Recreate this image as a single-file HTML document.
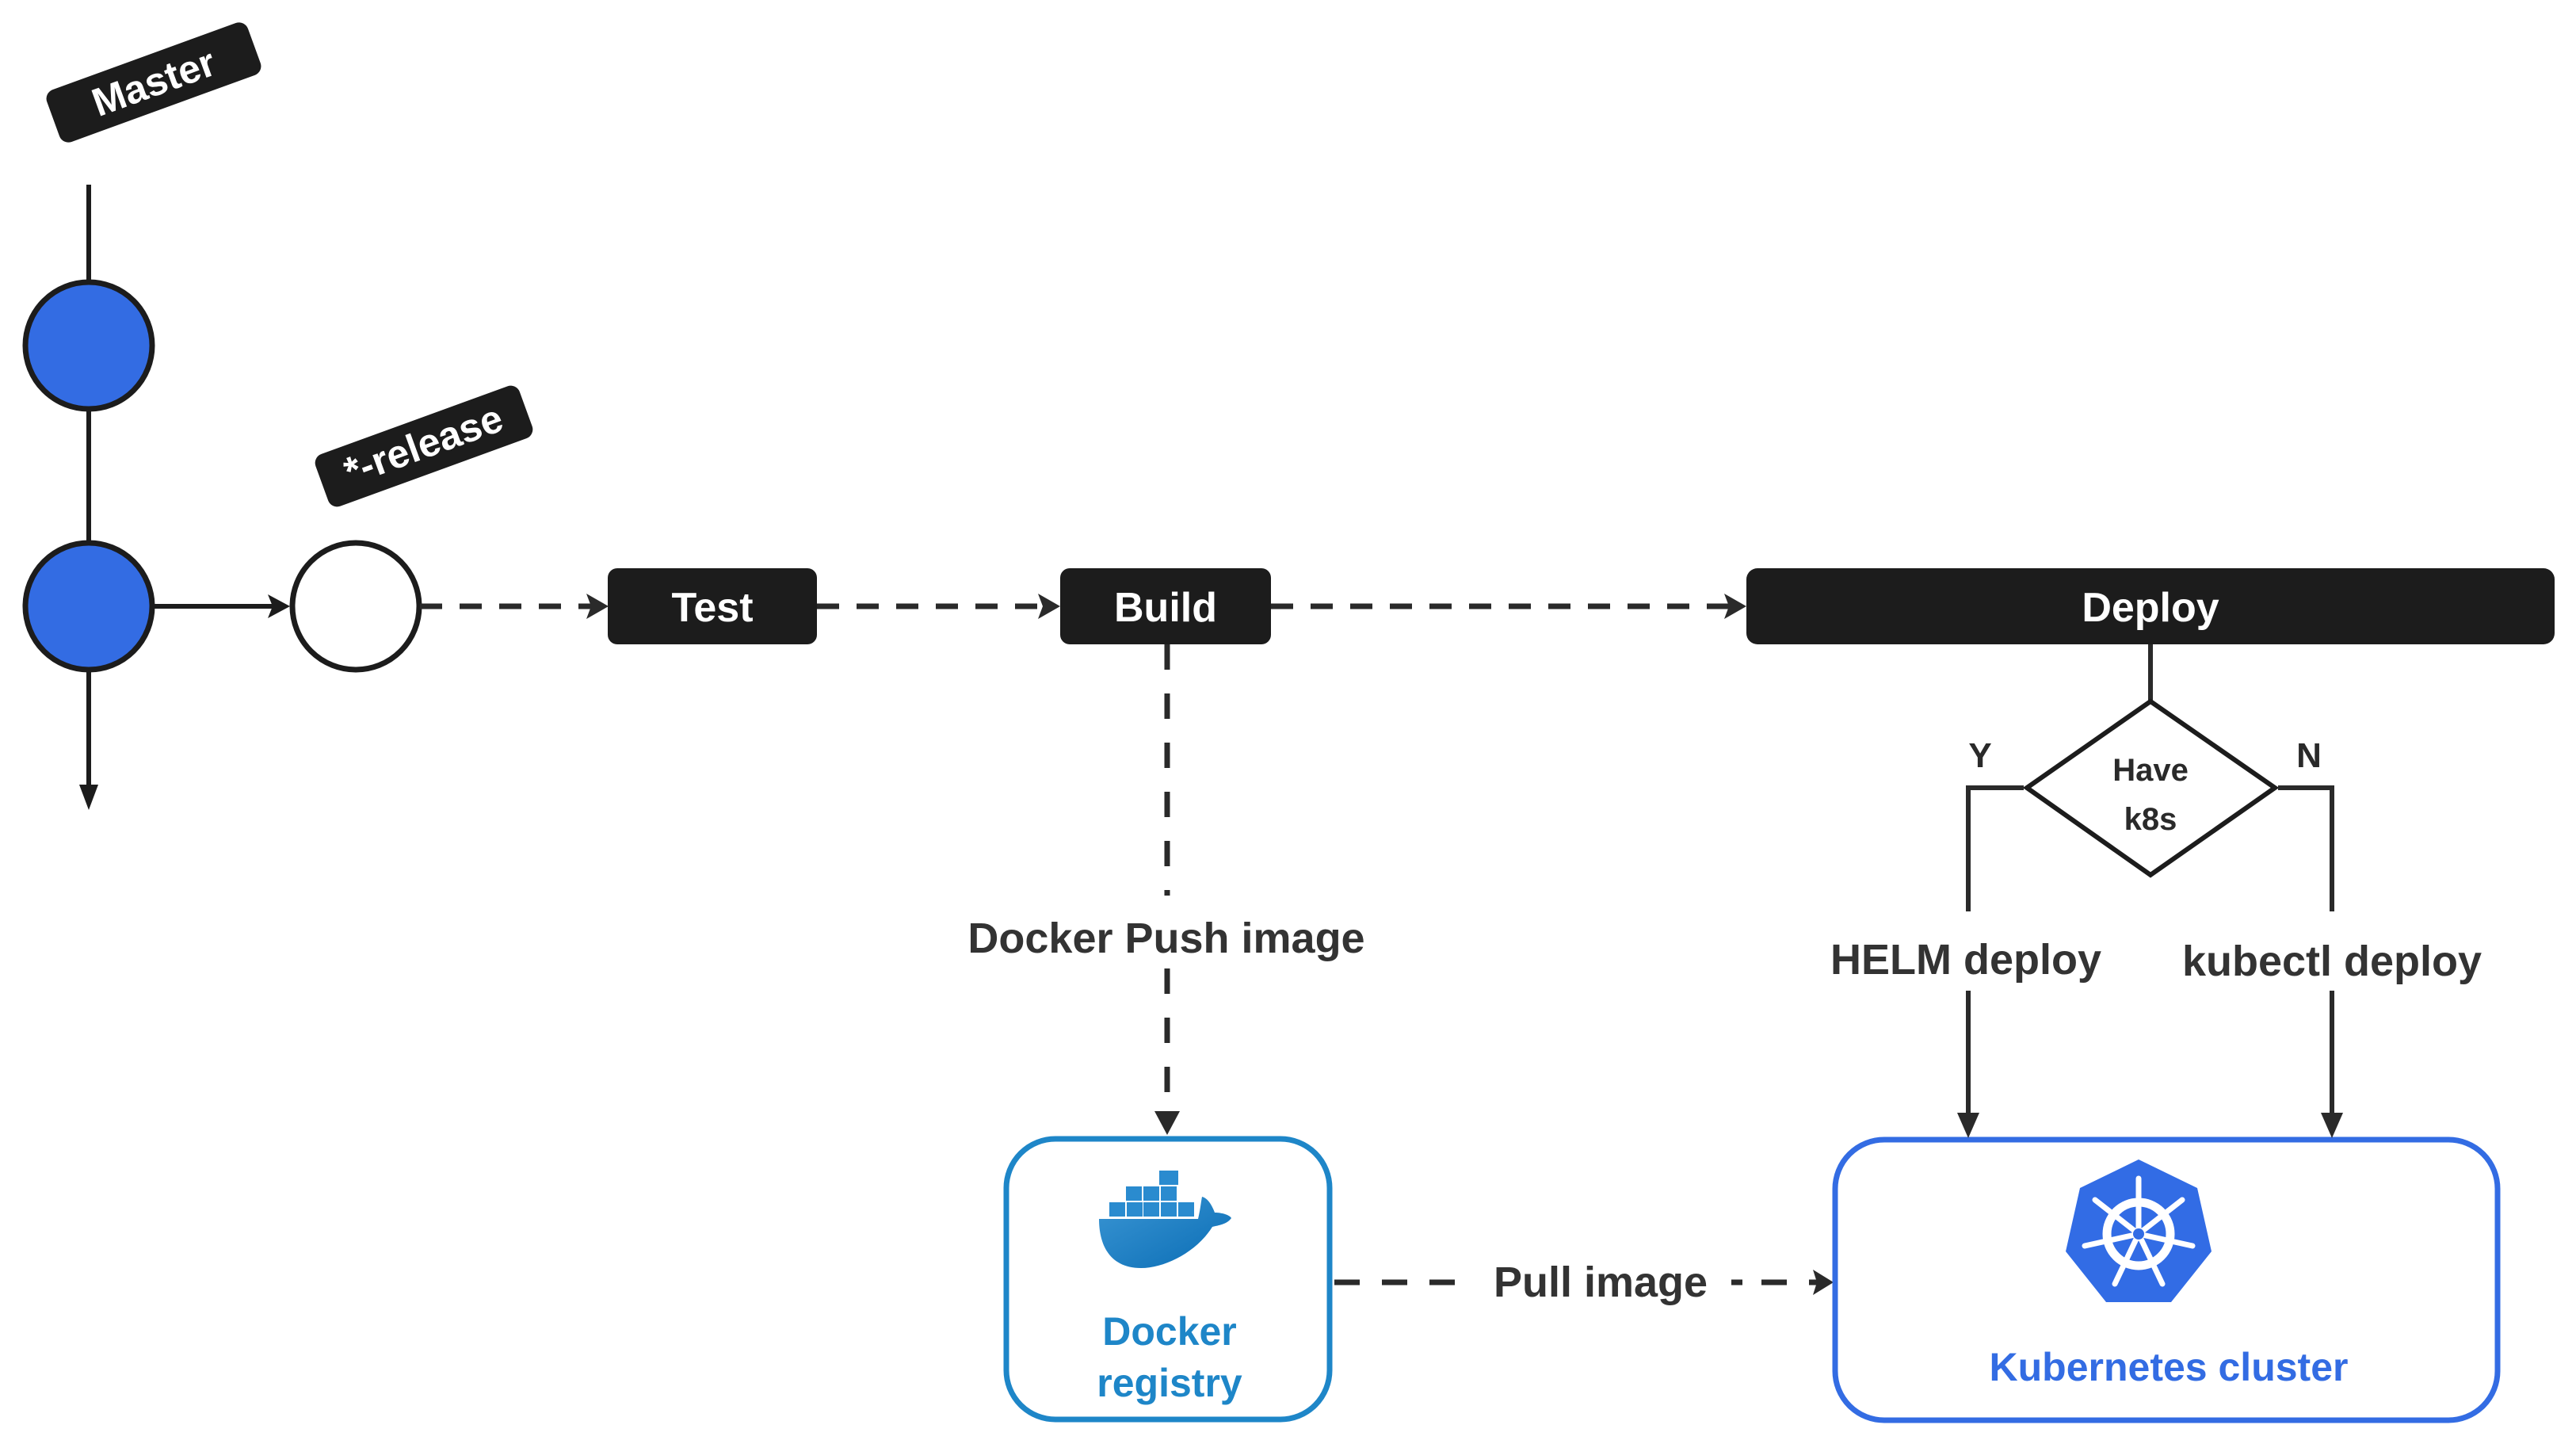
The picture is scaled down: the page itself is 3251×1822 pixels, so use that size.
<!DOCTYPE html>
<html><head><meta charset="utf-8"><style>
html,body{margin:0;padding:0;background:#fff}
svg{display:block}
text{font-family:"Liberation Sans",sans-serif;font-weight:bold}
</style></head><body>
<svg width="3251" height="1822" viewBox="0 0 3251 1822" xmlns="http://www.w3.org/2000/svg">
<defs>
<linearGradient id="dg" x1="0" y1="0" x2="1" y2="1"><stop offset="0" stop-color="#3a95d3"/><stop offset="1" stop-color="#0a6db5"/></linearGradient>
</defs>
<rect width="3251" height="1822" fill="#fff"/>

<!-- Master label -->
<g transform="translate(194,104) rotate(-20)">
<rect x="-135" y="-35" width="270" height="70" rx="12" fill="#1c1c1c"/>
<text x="0" y="17" font-size="50" fill="#fff" text-anchor="middle">Master</text>
</g>
<!-- release label -->
<g transform="translate(535,563) rotate(-20)">
<rect x="-137" y="-35" width="274" height="70" rx="12" fill="#1c1c1c"/>
<text x="0" y="15" font-size="50" fill="#fff" text-anchor="middle">*-release</text>
</g>

<!-- master line -->
<line x1="112" y1="233" x2="112" y2="1000" stroke="#1c1c1c" stroke-width="6"/>
<polygon points="100,990 124,990 112,1022" fill="#1c1c1c"/>
<circle cx="112" cy="436" r="80" fill="#336ce3" stroke="#1c1c1c" stroke-width="7"/>
<circle cx="112" cy="765" r="80" fill="#336ce3" stroke="#1c1c1c" stroke-width="7"/>
<line x1="195" y1="765" x2="350" y2="765" stroke="#1c1c1c" stroke-width="6"/>
<polygon points="338,750 366,765 338,780 344,765" fill="#1c1c1c"/>
<circle cx="449" cy="765" r="80" fill="#fff" stroke="#1c1c1c" stroke-width="7"/>

<line x1="530" y1="765" x2="752" y2="765" stroke="#2a2a2a" stroke-width="7" stroke-dasharray="28,22"/>
<polygon points="740,749 768,765 740,781 746,765" fill="#2a2a2a"/>
<rect x="767" y="717" width="264" height="96" rx="12" fill="#1c1c1c"/>
<text x="899" y="784" font-size="52" fill="#fff" text-anchor="middle">Test</text>

<line x1="1031" y1="765" x2="1322" y2="765" stroke="#2a2a2a" stroke-width="7" stroke-dasharray="28,22"/>
<polygon points="1310,749 1338,765 1310,781 1316,765" fill="#2a2a2a"/>
<rect x="1338" y="717" width="266" height="96" rx="12" fill="#1c1c1c"/>
<text x="1471" y="784" font-size="52" fill="#fff" text-anchor="middle">Build</text>

<line x1="1604" y1="765" x2="2188" y2="765" stroke="#2a2a2a" stroke-width="7" stroke-dasharray="28,22"/>
<polygon points="2176,749 2204,765 2176,781 2182,765" fill="#2a2a2a"/>

<!-- Docker push -->
<line x1="1473" y1="813" x2="1473" y2="1130" stroke="#2a2a2a" stroke-width="7" stroke-dasharray="32,30"/>
<text x="1472" y="1202" font-size="54" fill="#333" text-anchor="middle">Docker Push image</text>
<line x1="1473" y1="1222" x2="1473" y2="1405" stroke="#2a2a2a" stroke-width="7" stroke-dasharray="32,30"/>
<polygon points="1457,1402 1489,1402 1473,1432" fill="#2a2a2a"/>

<rect x="1270" y="1437" width="408" height="354" rx="62" fill="#fff" stroke="#1e86c8" stroke-width="7"/>
<g fill="#2a8bcf">
<rect x="1463" y="1477" width="24" height="18"/>
<rect x="1421" y="1497" width="20" height="18"/><rect x="1443" y="1497" width="20" height="18"/><rect x="1465" y="1497" width="20" height="18"/>
<rect x="1400" y="1517" width="20" height="18"/><rect x="1422" y="1517" width="20" height="18"/><rect x="1443" y="1517" width="20" height="18"/><rect x="1465" y="1517" width="20" height="18"/><rect x="1487" y="1517" width="20" height="18"/>
</g>
<path d="M1387,1538 L1512,1538 C1515,1525 1516,1515 1517,1510 C1525,1512 1530,1522 1533,1530 C1542,1530 1552,1533 1554,1537 C1548,1545 1538,1546 1530,1548 C1510,1580 1470,1600 1440,1600 C1400,1600 1387,1570 1387,1538 Z" fill="url(#dg)"/>
<text x="1476" y="1697" font-size="50" fill="#1e86c8" text-anchor="middle">Docker</text>
<text x="1476" y="1762" font-size="50" fill="#1e86c8" text-anchor="middle">registry</text>

<!-- Pull image -->
<line x1="1684" y1="1618" x2="1860" y2="1618" stroke="#2a2a2a" stroke-width="7" stroke-dasharray="32,28"/>
<text x="2020" y="1636" font-size="54" fill="#333" text-anchor="middle">Pull image</text>
<line x1="2185" y1="1618" x2="2295" y2="1618" stroke="#2a2a2a" stroke-width="7" stroke-dasharray="14,24,32,28"/>
<polygon points="2288,1602 2314,1618 2288,1634 2293,1618" fill="#2a2a2a"/>

<g transform="translate(-7,0)">
<rect x="2211" y="717" width="1020" height="96" rx="14" fill="#1c1c1c"/>
<text x="2721" y="784" font-size="52" fill="#fff" text-anchor="middle">Deploy</text>

<rect x="2323" y="1438" width="836" height="354" rx="62" fill="#fff" stroke="#336ce3" stroke-width="7"/>
<polygon points="2706,1463 2780,1499 2798,1579 2747,1643 2665,1643 2614,1579 2632,1499" fill="#326ce5"/>
<g stroke="#fff" fill="none" stroke-linecap="round">
<circle cx="2706" cy="1557" r="40" stroke-width="11"/>
<g stroke-width="7">
<line x1="2706" y1="1557" x2="2706" y2="1487"/>
<line x1="2706" y1="1557" x2="2761" y2="1514"/>
<line x1="2706" y1="1557" x2="2774" y2="1572"/>
<line x1="2706" y1="1557" x2="2736" y2="1620"/>
<line x1="2706" y1="1557" x2="2676" y2="1620"/>
<line x1="2706" y1="1557" x2="2638" y2="1572"/>
<line x1="2706" y1="1557" x2="2651" y2="1514"/>
</g>
</g>
<circle cx="2706" cy="1557" r="7" fill="#326ce5"/>
<text x="2744" y="1742" font-size="50" fill="#336ce3" text-anchor="middle">Kubernetes cluster</text>

<line x1="2721" y1="813" x2="2721" y2="884" stroke="#2a2a2a" stroke-width="6"/>
<polygon points="2721,885 2878,994 2721,1104 2565,994" fill="#fff" stroke="#1c1c1c" stroke-width="6"/>
<text x="2721" y="985" font-size="40" fill="#2a2a2a" text-anchor="middle">Have</text>
<text x="2721" y="1047" font-size="40" fill="#2a2a2a" text-anchor="middle">k8s</text>
<polyline points="2561,994 2491,994 2491,1150" fill="none" stroke="#2a2a2a" stroke-width="6"/>
<polyline points="2882,994 2950,994 2950,1150" fill="none" stroke="#2a2a2a" stroke-width="6"/>
<text x="2506" y="968" font-size="44" fill="#2a2a2a" text-anchor="middle">Y</text>
<text x="2921" y="968" font-size="44" fill="#2a2a2a" text-anchor="middle">N</text>
<text x="2488" y="1229" font-size="54" fill="#333" text-anchor="middle">HELM deploy</text>
<text x="2950" y="1231" font-size="54" fill="#333" text-anchor="middle">kubectl deploy</text>
<line x1="2491" y1="1250" x2="2491" y2="1410" stroke="#2a2a2a" stroke-width="6"/>
<line x1="2950" y1="1250" x2="2950" y2="1410" stroke="#2a2a2a" stroke-width="6"/>
<polygon points="2477,1404 2505,1404 2491,1436" fill="#2a2a2a"/>
<polygon points="2936,1404 2964,1404 2950,1436" fill="#2a2a2a"/>
</g>
</svg>
</body></html>
